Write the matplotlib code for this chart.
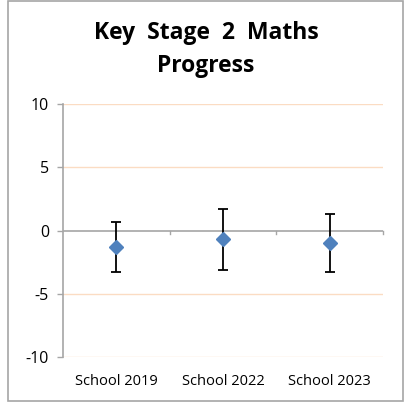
import matplotlib.pyplot as plt
from matplotlib.patches import Rectangle

categories = ["School 2019", "School 2022", "School 2023"]
progress = [-1.3, -0.7, -1.0]
ci_low = [-3.3, -3.1, -3.3]
ci_high = [0.7, 1.7, 1.3]
yticks = [-10, -5, 0, 5, 10]

plt.rcParams["font.family"] = ["Open Sans", "DejaVu Sans"]

W, H = 406, 405
fig = plt.figure(figsize=(W / 100, H / 100), dpi=100)

# outer chart border
fig.patches.append(Rectangle((8 / W, 1 - 401 / H), 395 / W, 400 / H,
                             transform=fig.transFigure, fill=False,
                             edgecolor="#a6a6a6", linewidth=1.2))

x0, x1, y_top, y_bot = 63, 383, 104, 357
ax = fig.add_axes([x0 / W, 1 - y_bot / H, (x1 - x0) / W, (y_bot - y_top) / H])

xs = [i + 0.5 for i in range(len(categories))]
lower = [p - lo for p, lo in zip(progress, ci_low)]
upper = [hi - p for p, hi in zip(progress, ci_high)]

for y in yticks:
    if y != 0:
        ax.axhline(y, color="#fbdcc3", linewidth=1.0, zorder=0)
ax.axhline(0, color="#a6a6a6", linewidth=1.2, zorder=1)

ax.errorbar(xs, progress, yerr=[lower, upper], fmt="D", color="#4f81bd",
            markersize=7.5, ecolor="black", elinewidth=1.3, capsize=3.5,
            capthick=1.3, zorder=3)

# category boundary ticks along the zero line
for b in range(1, len(categories) + 1):
    ax.plot([b, b], [0, -0.3], color="#a6a6a6", linewidth=1.0, zorder=1,
            clip_on=False)

ax.set_xlim(0, len(categories))
ax.set_ylim(-10, 10)
ax.set_yticks(yticks)
ax.set_yticklabels([str(v) for v in yticks], fontsize=11.5)
ax.set_xticks(xs)
ax.set_xticklabels(categories, fontsize=10.5)
ax.tick_params(axis="x", length=0, pad=12)
ax.tick_params(axis="y", length=4, color="#a6a6a6", width=1.0, pad=6)
for s in ["top", "right", "bottom"]:
    ax.spines[s].set_visible(False)
ax.spines["left"].set_color("#a6a6a6")
ax.spines["left"].set_linewidth(1.2)

fig.text(206 / W, 1 - 33 / H, "Key  Stage  2  Maths", ha="center", va="center",
         fontsize=16.5, fontweight="bold")
fig.text(206 / W, 1 - 66 / H, "Progress", ha="center", va="center",
         fontsize=16.5, fontweight="bold")

fig.savefig("out.png", dpi=100)
